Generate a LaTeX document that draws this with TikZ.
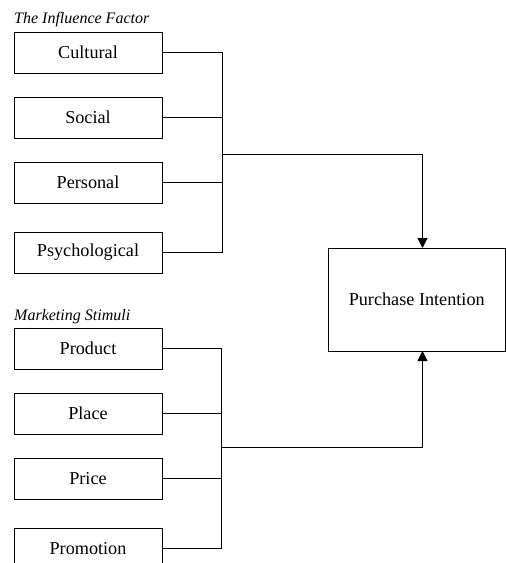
\documentclass[tikz,border=0pt]{standalone}
\usepackage{fontspec}
\setmainfont{Liberation Serif}
\usetikzlibrary{arrows.meta}
\begin{document}
\begin{tikzpicture}[x=1pt,y=-1pt,
  factor/.style={draw=black, line width=1pt, minimum width=148pt, minimum height=41pt, inner sep=0pt, font=\fontsize{18.2}{20}\selectfont},
  grouptitle/.style={anchor=west, inner sep=0pt, font=\fontsize{16}{18}\selectfont\itshape},
  link/.style={draw=black, line width=1pt},
  arr/.style={link, -{Triangle[width=10pt,length=10pt]}}]
\useasboundingbox (0,0) rectangle (506,563);
% group titles
\node[grouptitle] (t1) at (14,20) {The Influence Factor};
\node[grouptitle] (t2) at (14,317) {Marketing Stimuli};
% influence factors
\node[factor] (cul) at (88,52.5) {Cultural};
\node[factor] (soc) at (88,117.5) {Social};
\node[factor] (per) at (88,182.5) {Personal};
\node[factor] (psy) at (88,252.5) {Psychological};
% marketing stimuli
\node[factor] (prod) at (88,348.5) {Product};
\node[factor] (plac) at (88,413.5) {Place};
\node[factor] (pric) at (88,478.5) {Price};
\node[factor] (prom) at (88,548.5) {Promotion};
% outcome
\node[draw=black, line width=1pt, minimum width=177.5pt, minimum height=103pt, inner sep=0pt,
      font=\fontsize{18.2}{20}\selectfont] (pi) at (416.75,299.5) {Purchase Intention};
% bus coordinates
\coordinate (j1) at (222.5,154.5);
\coordinate (j2) at (221.5,447.5);
\coordinate (a1) at (422.5,248);
\coordinate (a2) at (422.5,351);
% upper group
\draw[link] (cul.east) -| (j1);
\draw[link] (soc.east) -| (j1);
\draw[link] (per.east) -| (j1);
\draw[link] (psy.east) -| (j1);
\draw[arr] (j1) -| (a1);
% lower group
\draw[link] (prod.east) -| (j2);
\draw[link] (plac.east) -| (j2);
\draw[link] (pric.east) -| (j2);
\draw[link] (prom.east) -| (j2);
\draw[arr] (j2) -| (a2);
\end{tikzpicture}
\end{document}
